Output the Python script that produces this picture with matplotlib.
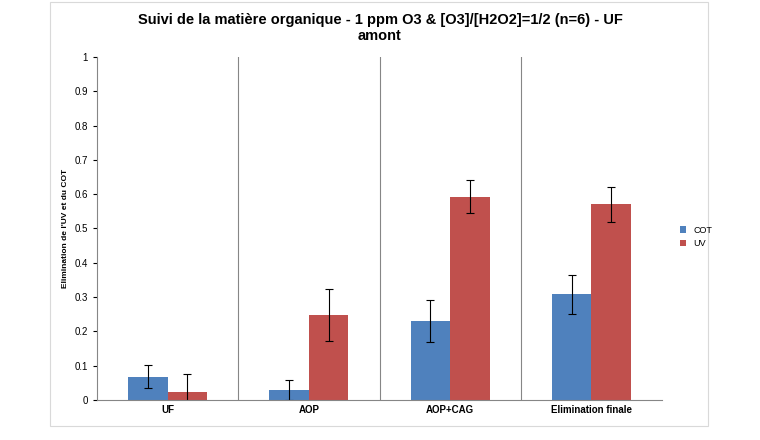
import numpy as np
import matplotlib.pyplot as plt
from matplotlib.patches import Rectangle

categories = ["UF", "AOP", "AOP+CAG", "Elimination finale"]
cot = [0.068, 0.028, 0.230, 0.308]
cot_err = [0.034, 0.029, 0.062, 0.057]
uv = [0.022, 0.247, 0.593, 0.570]
uv_err = [0.053, 0.076, 0.047, 0.050]
yticks = [0, 0.1, 0.2, 0.3, 0.4, 0.5, 0.6, 0.7, 0.8, 0.9, 1]

plt.rcParams["font.family"] = "Liberation Sans"
fig = plt.figure(figsize=(7.6, 4.4), dpi=100)
fig.patches.append(Rectangle((50 / 760, 1 - 426 / 440), 658 / 760, 424 / 440,
                             transform=fig.transFigure, fill=False,
                             edgecolor="#d9d9d9", lw=0.8))
ax = fig.add_axes([97 / 760, 1 - 400 / 440, 565 / 760, 343 / 440])

x = np.arange(len(categories))
w = 0.28
ax.bar(x - w / 2, cot, w, yerr=cot_err, color="#4f81bd", label="COT",
       error_kw=dict(ecolor="black", elinewidth=0.8, capsize=3, capthick=0.8))
ax.bar(x + w / 2, uv, w, yerr=uv_err, color="#c0504d", label="UV",
       error_kw=dict(ecolor="black", elinewidth=0.8, capsize=3, capthick=0.8))

ax.set_xlim(-0.5, len(categories) - 0.5)
ax.set_ylim(0, 1)
ax.set_yticks(yticks)
ax.set_yticklabels([f"{t:g}" for t in yticks], fontsize=7)
ax.set_xticks(x)
ax.set_xticklabels(categories, fontsize=7, fontweight="bold")
ax.tick_params(axis="x", length=0)
ax.tick_params(axis="y", length=3)
for b in np.arange(0.5, len(categories) - 0.5, 1):
    ax.axvline(b, color="#868686", lw=0.8)
for s in ["top", "right"]:
    ax.spines[s].set_visible(False)
for s in ["left", "bottom"]:
    ax.spines[s].set_color("#868686")
ax.set_ylabel("Elimination de l'UV et du COT", fontsize=6, fontweight="bold")

fig.text(380 / 760, 1 - 28 / 440,
         "Suivi de la matière organique - 1 ppm O3 & [O3]/[H2O2]=1/2 (n=6) - UF\namont",
         ha="center", va="center", fontsize=10.5, fontweight="bold")
fig.legend(loc="center left", bbox_to_anchor=(672 / 760, 1 - 237 / 440),
           frameon=False, fontsize=6.5, handlelength=0.7, handleheight=0.7)

fig.savefig("out.png", dpi=100)
